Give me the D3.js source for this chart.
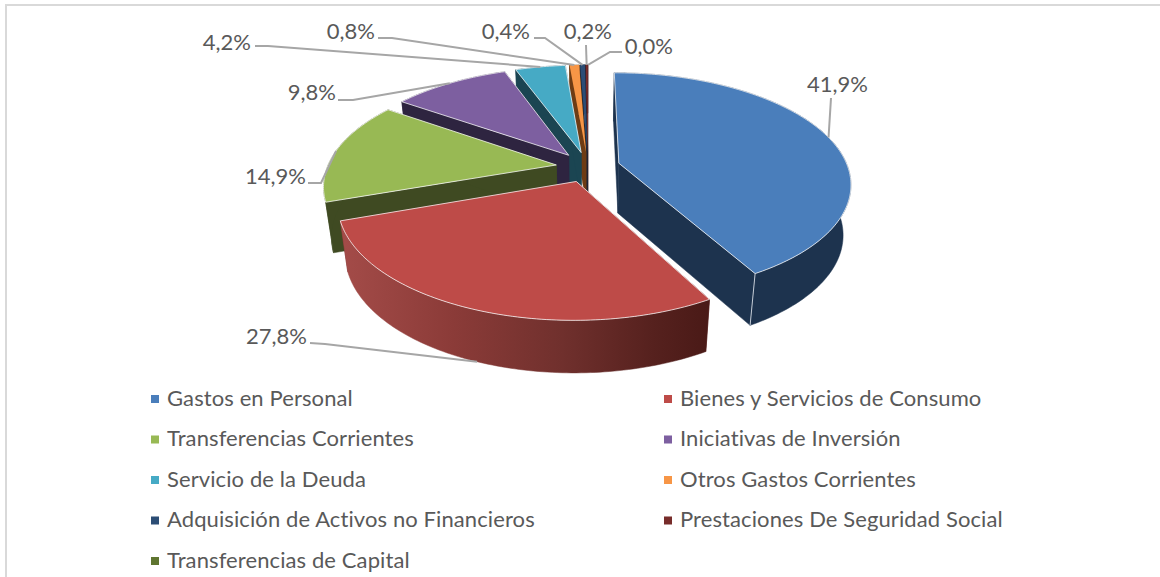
<!DOCTYPE html>
<html>
<head>
<meta charset="utf-8">
<script src="https://cdn.jsdelivr.net/npm/d3@7"></script>
<style>
  html, body { margin: 0; padding: 0; background: #fff; }
  svg { display: block; }
  text { font-family: Lato, "Open Sans", sans-serif; fill: #595959; }
</style>
</head>
<body>
<svg id="chart" width="1160" height="577"></svg>
<script>
const categories = [
  "Gastos en Personal", "Bienes y Servicios de Consumo", "Transferencias Corrientes",
  "Iniciativas de Inversión", "Servicio de la Deuda", "Otros Gastos Corrientes",
  "Adquisición de Activos no Financieros", "Prestaciones De Seguridad Social", "Transferencias de Capital"
];
const values = [41.9, 27.8, 14.9, 9.8, 4.2, 0.8, 0.4, 0.2, 0.0];
const topColors  = ["#4a7ebb", "#be4b48", "#98b954", "#7d5fa0", "#46aac5", "#f79646", "#2c4d75", "#772c2a", "#5f7530"];
const sideColors = ["#1d334e", "#6e2f2c", "#3f4a22", "#2e2440", "#1b4552", "#6e3c14", "#16263b", "#3b1514", "#2a3415"];

// label position + optional elbow of the leader line, same order as categories
const labelLayout = [
  { x: 868, y: 92,  elbow: [831, 98] },
  { x: 307, y: 344, elbow: [325, 344], start: [310, 343], wall: true },
  { x: 306, y: 184, elbow: [321, 183], start: [308, 183] },
  { x: 336, y: 100, elbow: [353, 100], start: [338, 100] },
  { x: 251, y: 50,  elbow: [268, 46],  start: [255, 46] },
  { x: 375, y: 39,  elbow: [392, 38],  start: [378, 38] },
  { x: 530, y: 39,  elbow: [545, 38],  start: [534, 38] },
  { x: 612, y: 39,  elbow: [586, 45] },
  { x: 673, y: 54,  elbow: [610, 52],  start: [622, 52] }
];

// --- proyeccion del pie ---
const cx = 588, cy = 167, Rx = 229, Ry = 108, perspX = 0.175, perspY = 0.18;
const explode = 0.14, depth = 50;

function project(u, v) {
  const s = 1 / (1 - perspY * v);
  return { x: cx + Rx * u / (1 - perspX * v), y: cy + s * Ry * v, s };
}
function lower(p) {
  return { x: cx + (p.x - cx) * 0.97, y: p.y + depth * (1 + 0.2 * (p.s - 1)), s: p.s };
}

const svg = d3.select("#chart");
const pie = d3.pie().sort(null).value(d => d);
const arcs = pie(values);

const color = d3.scaleOrdinal().domain(categories).range(topColors);
const sideColor = d3.scaleOrdinal().domain(categories).range(sideColors);

// marco
svg.append("rect").attr("x", 5).attr("y", 4).attr("width", 1155).attr("height", 2).attr("fill", "#d9d9d9");
svg.append("rect").attr("x", 5).attr("y", 4).attr("width", 2).attr("height", 573).attr("fill", "#d9d9d9");

const grad = svg.append("defs").append("linearGradient")
  .attr("id", "redWall").attr("gradientUnits", "userSpaceOnUse")
  .attr("x1", 345).attr("x2", 707).attr("y1", 0).attr("y2", 0);
[[0, "#a34b48"], [0.3, "#8b3b38"], [0.6, "#70302d"], [0.85, "#56211e"], [1, "#4a1a17"]].forEach(s => {
  grad.append("stop").attr("offset", s[0]).attr("stop-color", s[1]);
});

const lineGen = d3.line().x(d => d.x).y(d => d.y);

function rimPoint(a, theta) {
  const mid = (a.startAngle + a.endAngle) / 2;
  const u = Math.sin(theta) + explode * Math.sin(mid);
  const v = -Math.cos(theta) - explode * Math.cos(mid);
  return project(u, v);
}
function apexPoint(a) {
  const mid = (a.startAngle + a.endAngle) / 2;
  return project(explode * Math.sin(mid), -explode * Math.cos(mid));
}

// de atras hacia adelante
const drawOrder = [8, 7, 6, 5, 4, 3, 2, 0, 1];
const chartG = svg.append("g");

drawOrder.forEach(i => {
  const a = arcs[i];
  const name = categories[i];
  if (a.endAngle - a.startAngle <= 0) return;
  const steps = Math.max(2, Math.ceil((a.endAngle - a.startAngle) / (Math.PI / 180)));
  const thetas = d3.range(steps + 1).map(k => a.startAngle + (a.endAngle - a.startAngle) * k / steps);
  const rim = thetas.map(t => rimPoint(a, t));
  const apex = apexPoint(a);
  const side = i === 1 ? "url(#redWall)" : sideColor(name);

  // paredes radiales
  [[apex, rim[0]], [rim[rim.length - 1], apex]].forEach(e => {
    chartG.append("path")
      .attr("d", lineGen([e[0], e[1], lower(e[1]), lower(e[0])]) + "Z")
      .attr("fill", sideColor(name)).attr("stroke", sideColor(name)).attr("stroke-width", 0.5);
  });
  // pared exterior
  const outer = rim.concat(rim.map(lower).reverse());
  chartG.append("path")
    .attr("d", lineGen(outer) + "Z")
    .attr("fill", side).attr("stroke", side).attr("stroke-width", 0.5);
  if (i === 0) {
    const c = rim[rim.length - 1];
    chartG.append("path").attr("d", lineGen([c, lower(c)]))
      .attr("stroke", "#c4ccd6").attr("stroke-width", 1).attr("fill", "none");
  }
  // cara superior (sin borde blanco en las rebanadas muy finas)
  chartG.append("path")
    .attr("d", lineGen([apex].concat(rim)) + "Z")
    .attr("fill", color(name))
    .attr("stroke", values[i] < 1 ? "none" : "#fff")
    .attr("stroke-opacity", 0.75).attr("stroke-width", 1).attr("stroke-linejoin", "round");
});

// etiquetas y lineas guia
arcs.forEach((a, i) => {
  const layout = labelLayout[i];
  const mid = (a.startAngle + a.endAngle) / 2;
  let end = rimPoint(a, mid);
  if (layout.wall) end = lower(end);
  const pts = (layout.start ? [layout.start] : []).concat([layout.elbow, [end.x, end.y]]);
  svg.append("path")
    .attr("d", d3.line()(pts))
    .attr("fill", "none").attr("stroke", "#a6a6a6").attr("stroke-width", 2);
  svg.append("text")
    .attr("x", layout.x).attr("y", layout.y)
    .attr("text-anchor", "end")
    .style("font-size", "22px")
    .text(values[i].toFixed(1).replace(".", ",") + "%");
});

// leyenda
const legendCols = d3.scalePoint().domain([0, 1]).range([151, 664]);
const legendRows = d3.scalePoint().domain(d3.range(5)).range([399, 561]);
categories.forEach((name, i) => {
  const x = legendCols(i % 2);
  const y = legendRows(Math.floor(i / 2));
  svg.append("rect")
    .attr("x", x).attr("y", y - 4).attr("width", 8).attr("height", 8)
    .attr("fill", color(name));
  svg.append("text")
    .attr("x", x + 16).attr("y", y + 6.5)
    .style("font-size", "22px")
    .style("letter-spacing", "0.1px")
    .text(name);
});
</script>
</body>
</html>
